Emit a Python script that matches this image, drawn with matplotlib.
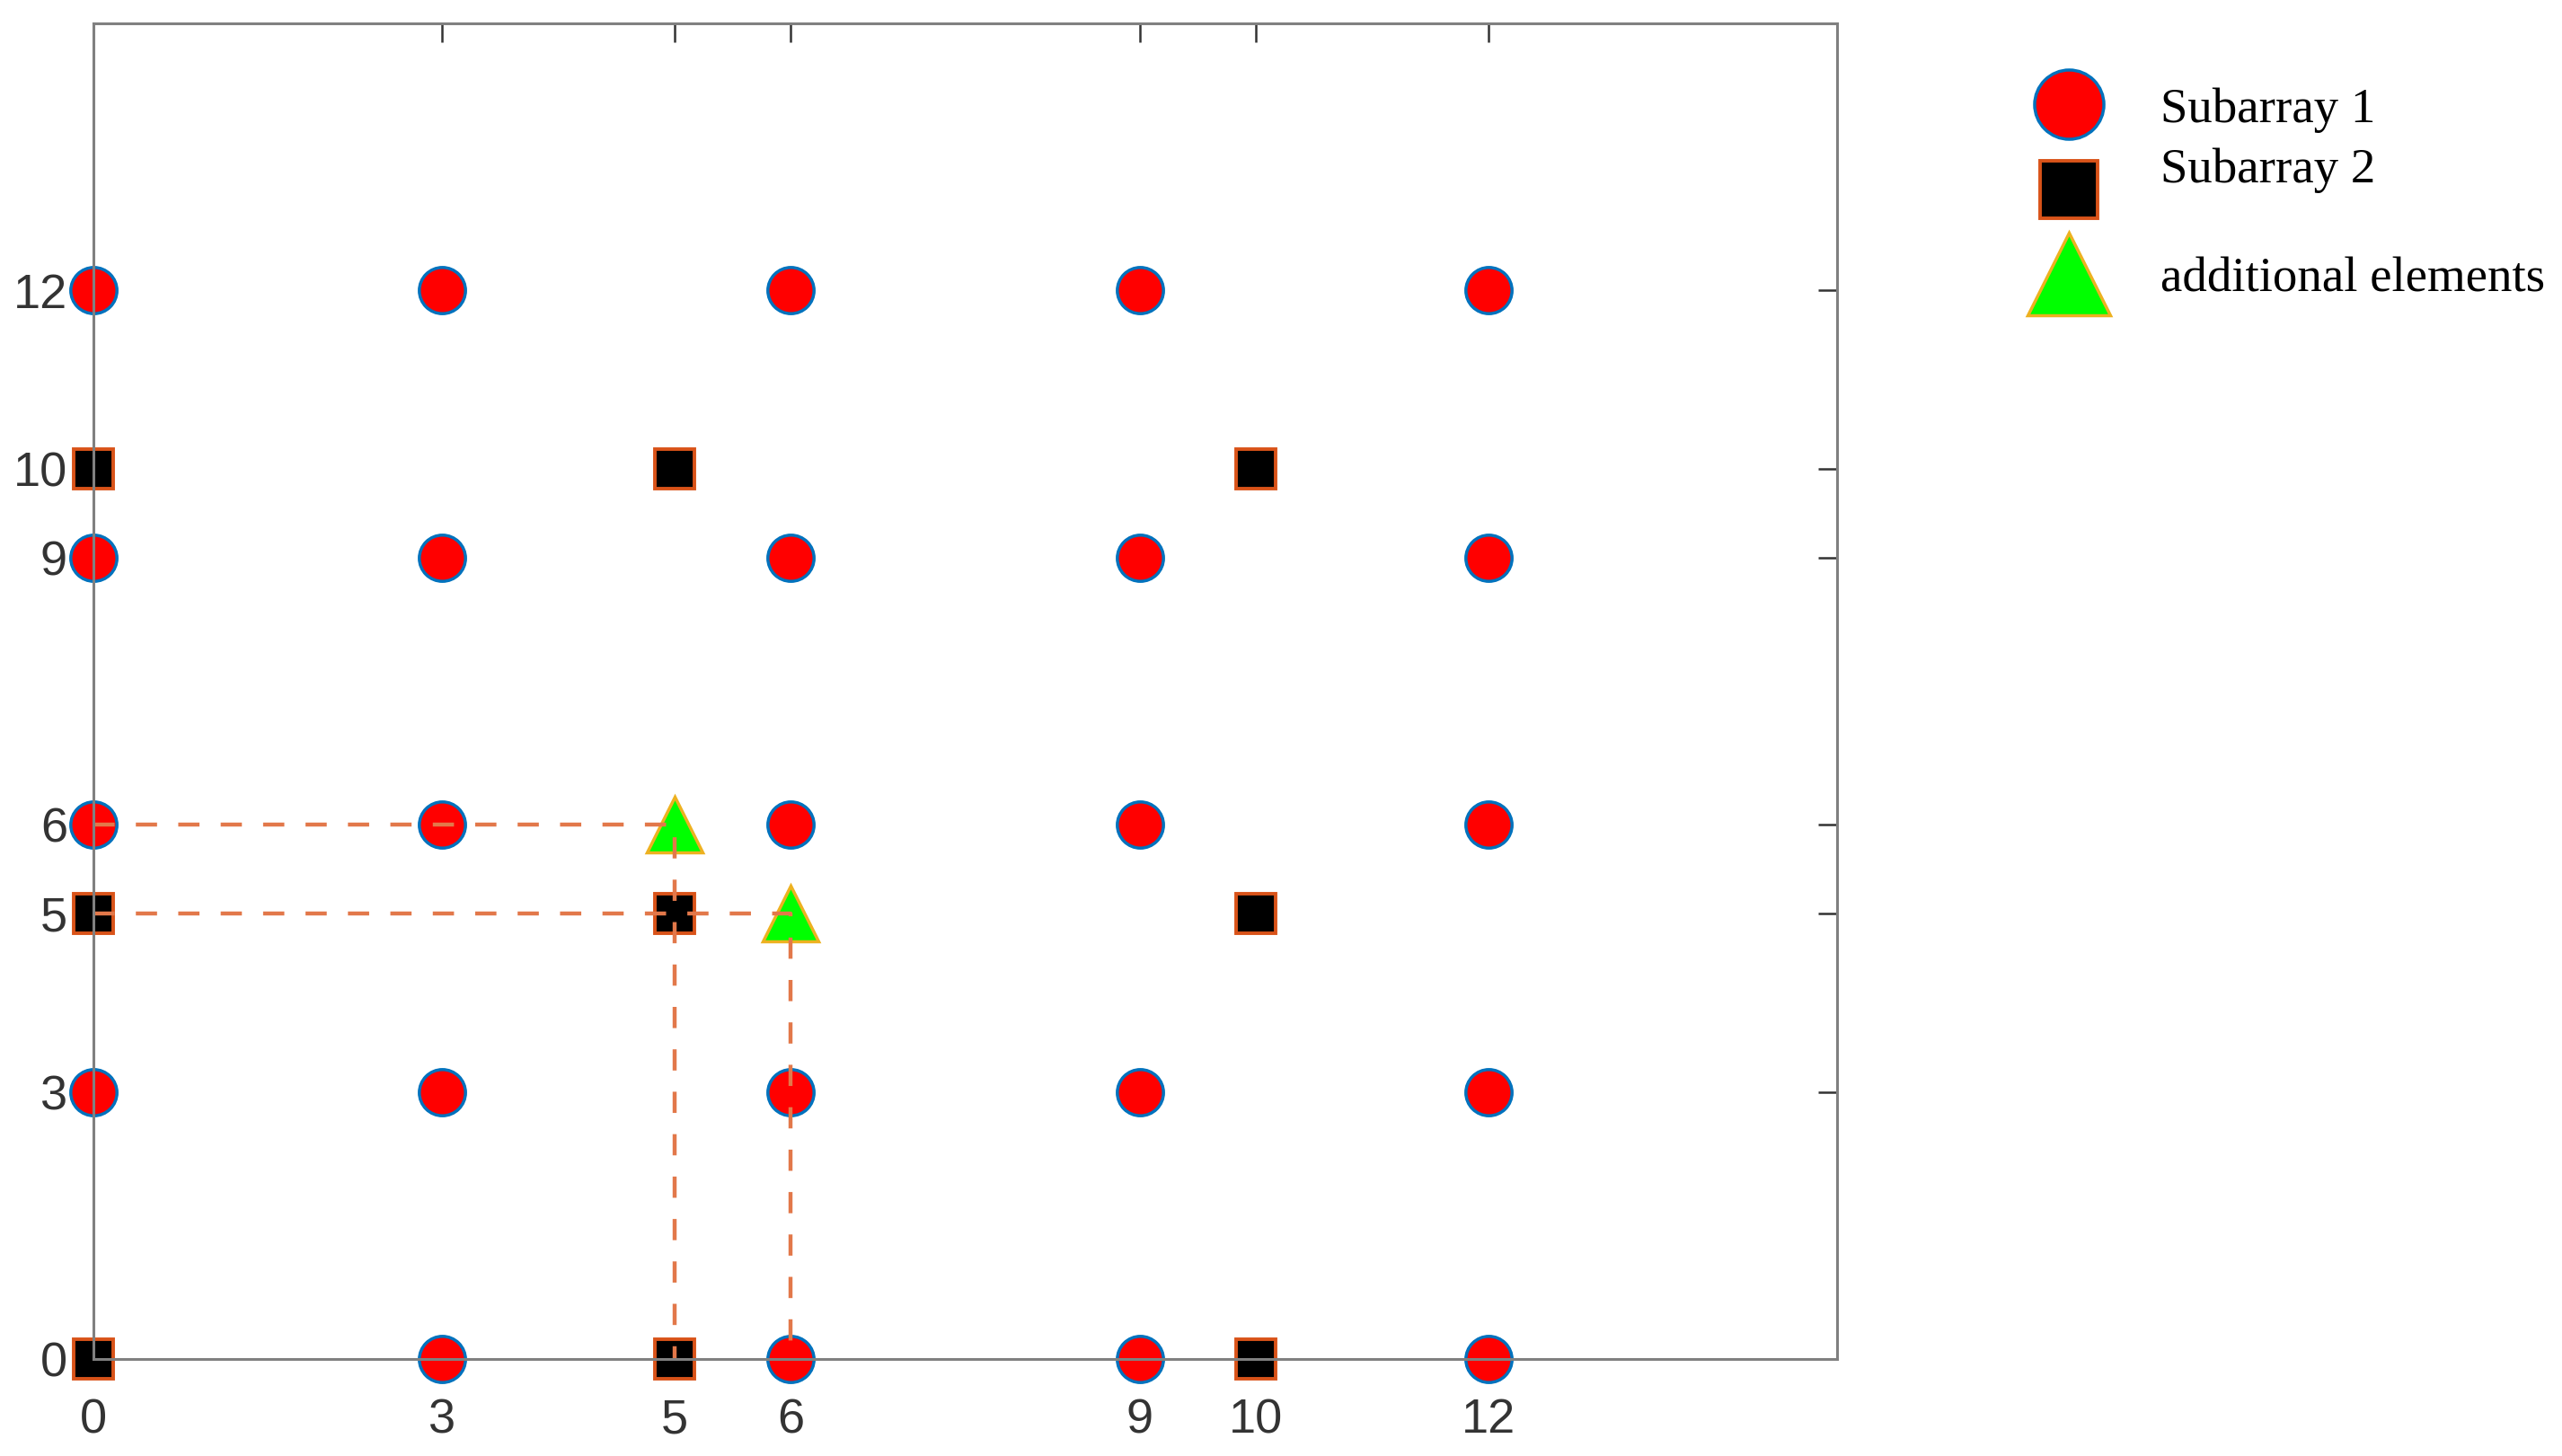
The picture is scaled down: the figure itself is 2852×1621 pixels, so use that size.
import numpy as np
import matplotlib
matplotlib.use('Agg')
import matplotlib.pyplot as plt

# element positions (in units of d)
sub1_pos = [0, 3, 6, 9, 12]
sub2_pos = [0, 5, 10]
extra_x = [5, 6]
extra_y = [6, 5]

# dashed guide paths
guide1_x = [0, 5, 5]
guide1_y = [6, 6, 0]
guide2_x = [0, 6, 6]
guide2_y = [5, 5, 0]

ticks = [0, 3, 5, 6, 9, 10, 12]
labels = ['Subarray 1', 'Subarray 2', 'additional elements']

s1x, s1y = np.meshgrid(sub1_pos, sub1_pos)
s1x, s1y = s1x.ravel(), s1y.ravel()
# the origin is shared, only the subarray 2 marker shows there
keep = ~((s1x == 0) & (s1y == 0))
s1x, s1y = s1x[keep], s1y[keep]
s2x, s2y = np.meshgrid(sub2_pos, sub2_pos)

plt.rcParams['lines.scale_dashes'] = False

fig = plt.figure(figsize=(28.52, 16.21), dpi=100)
ax = fig.add_axes([0.0365, 0.0666, 0.6805, 0.9174])

c1, = ax.plot(s1x, s1y, 'o', ms=37, mfc='#FF0000', mec='#0072BD',
              mew=2.5, clip_on=False, label=labels[0])
c2, = ax.plot(s2x.ravel(), s2y.ravel(), 's', ms=31, mfc='black', mec='#D95319',
              mew=2.8, clip_on=False, label=labels[1])
c3, = ax.plot(extra_x, extra_y, '^', ms=44, mfc='#00FF00', mec='#EDB120',
              mew=2.5, clip_on=False, label=labels[2])

for gx, gy in [(guide1_x, guide1_y), (guide2_x, guide2_y)]:
    ax.plot(gx, gy, color='#E2784A', lw=3.2, dashes=(17, 17), clip_on=False)

ax.set_xlim(0, 15)
ax.set_ylim(0, 15)
ax.set_xticks(ticks)
ax.set_yticks(ticks)
ax.set_xticklabels([str(t) for t in ticks], family='Liberation Sans')
ax.set_yticklabels([str(t) for t in ticks], family='Liberation Sans')

ax.tick_params(axis='both', direction='in', length=15, width=1.8, color='#333333',
               labelsize=39, labelcolor='#333333', top=True, right=True)
ax.tick_params(axis='x', pad=31)
ax.tick_params(axis='y', pad=21)
for sp in ax.spines.values():
    sp.set_color('#808080')
    sp.set_linewidth(2.2)

leg = fig.legend(handles=[c1, c2, c3], loc='upper left',
                 bbox_to_anchor=(0.7829, 0.9570), frameon=False,
                 prop={'family': 'Liberation Serif', 'size': 39.5},
                 markerscale=1.5, handlelength=1.54, handletextpad=1.1,
                 borderpad=0, labelspacing=0.8)
# the second label sits higher than its marker in the original
leg.get_texts()[1].set_position((0, 27))

fig.savefig('out.png', dpi=100)
